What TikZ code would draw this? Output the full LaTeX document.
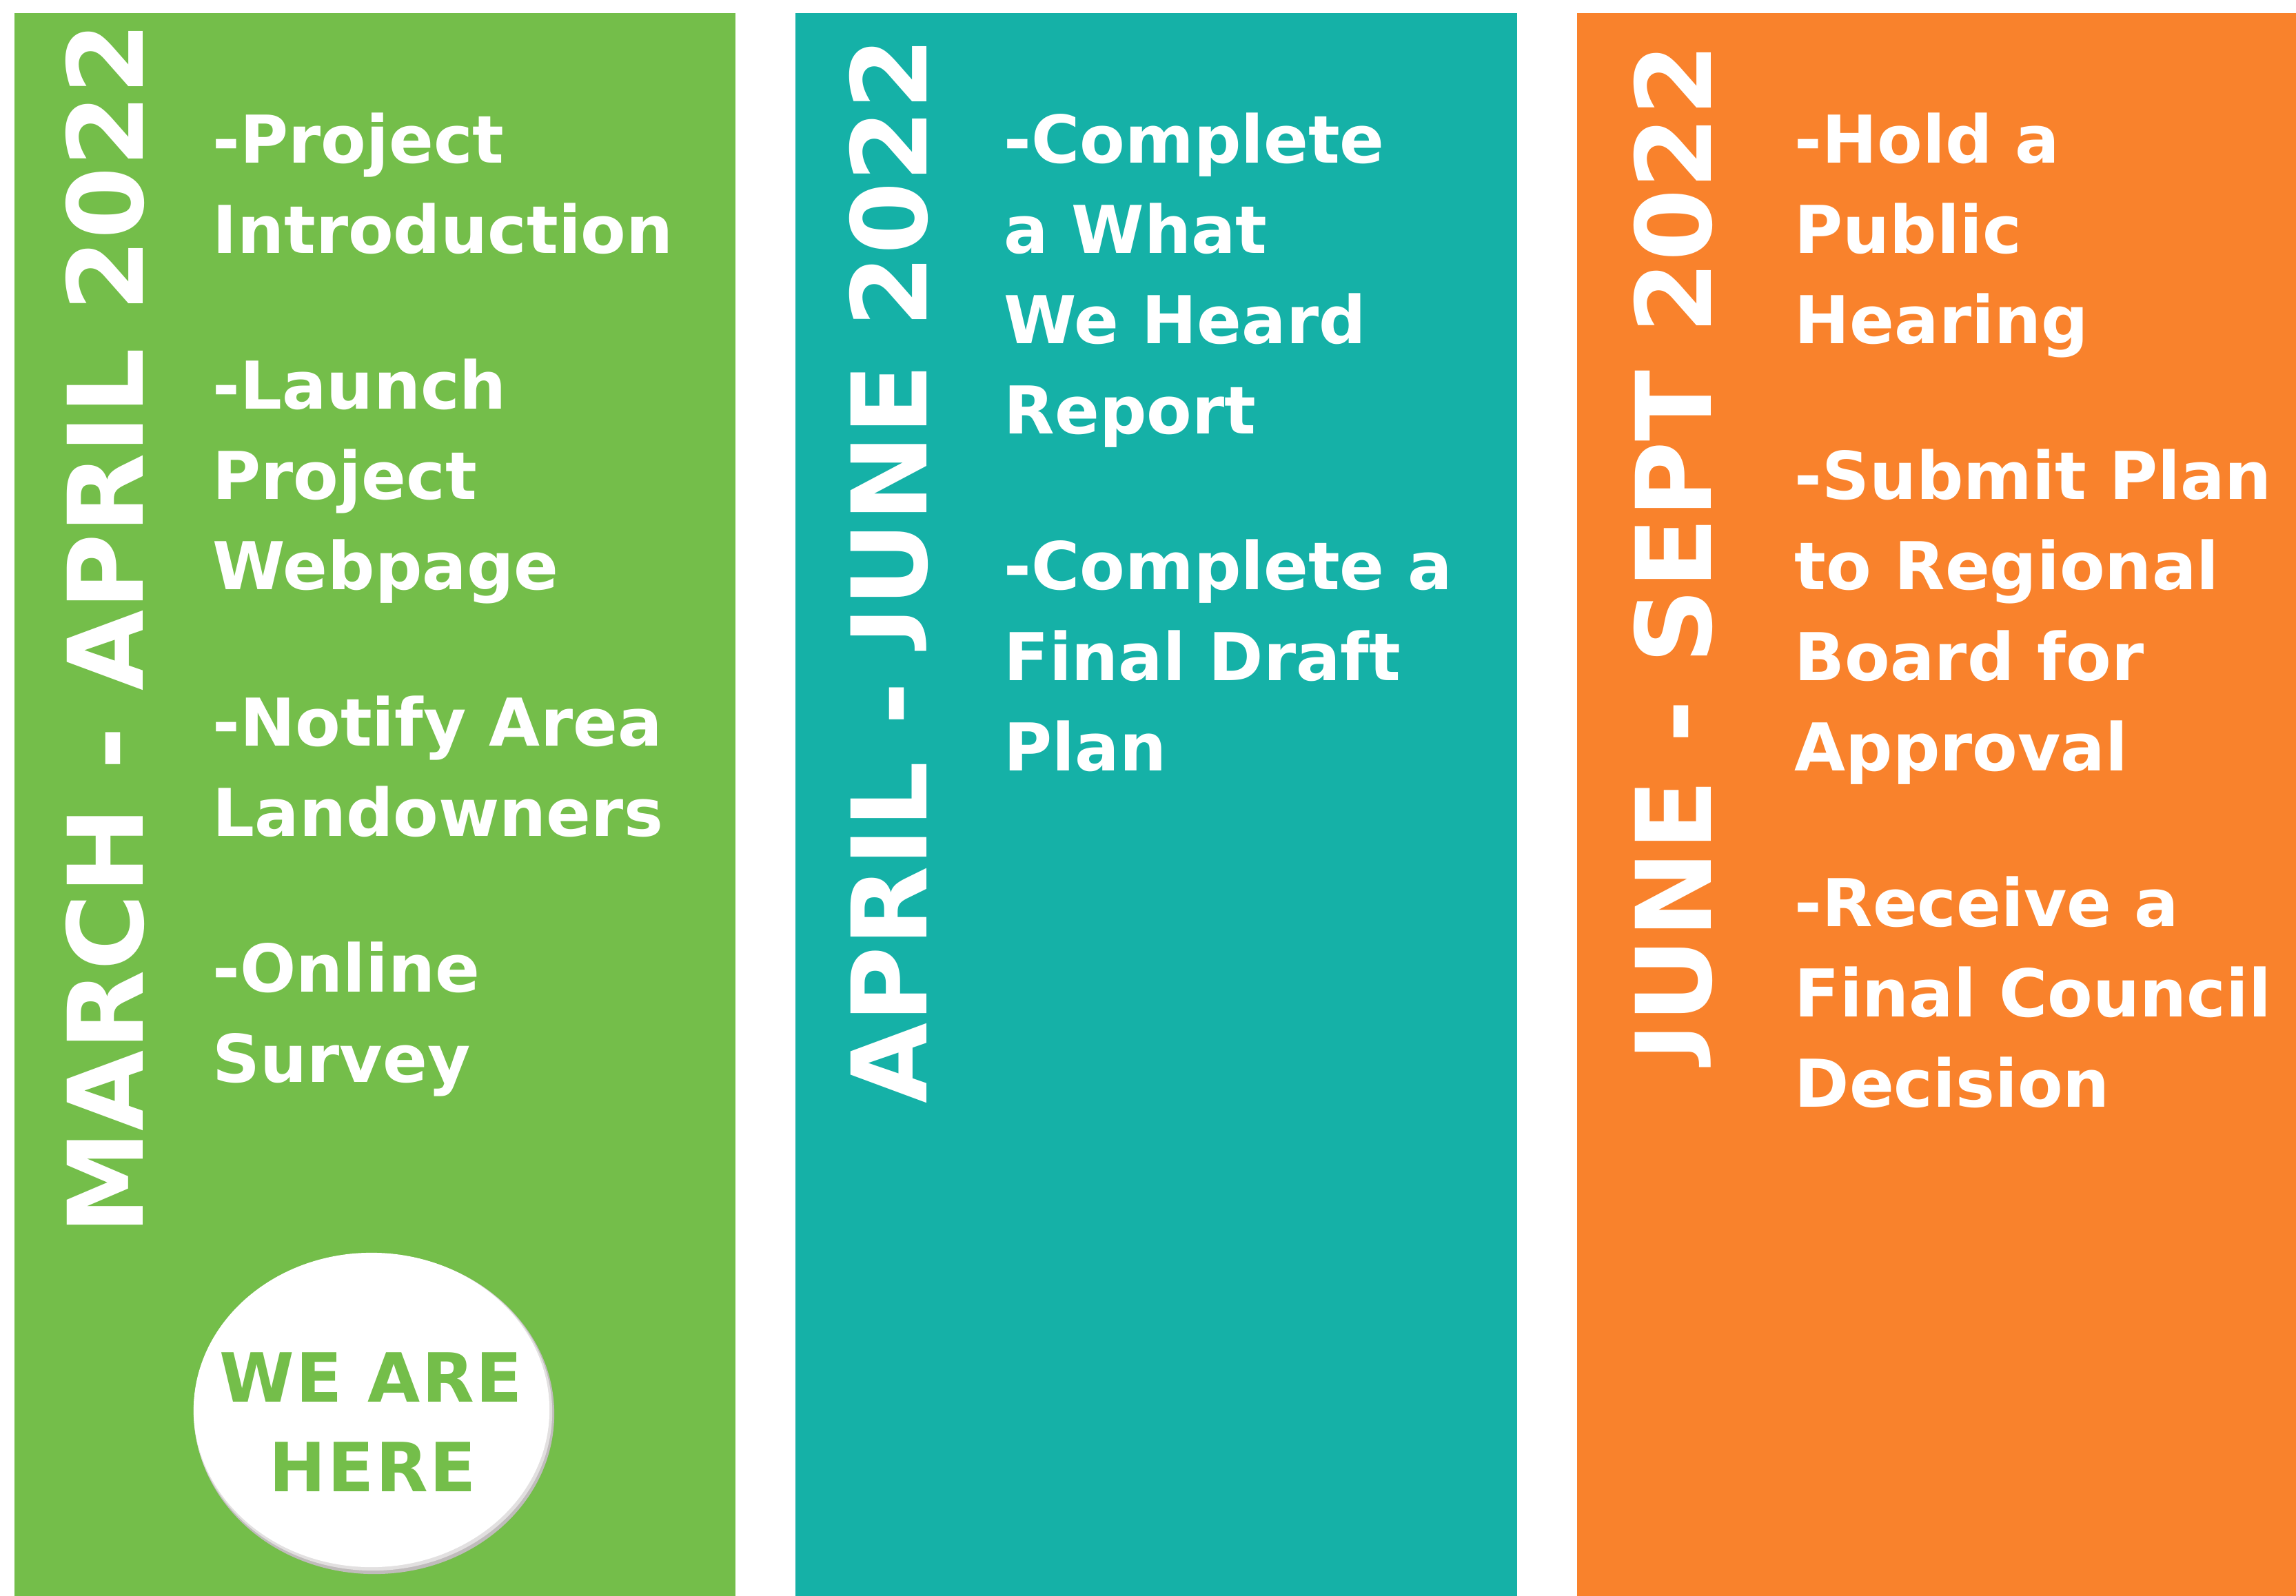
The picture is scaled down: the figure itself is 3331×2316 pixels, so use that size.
\documentclass[tikz,border=0pt]{standalone}
\usepackage{graphicx}
\usepackage{fontspec}
\setmainfont{DejaVu Sans}
\definecolor{leafgreen}{RGB}{116,190,74}
\definecolor{seateal}{RGB}{21,177,167}
\definecolor{sunorange}{RGB}{249,130,44}
\definecolor{shadowgray}{RGB}{192,188,188}
\definecolor{softgray}{RGB}{226,224,224}
% a J that sits on the baseline
\newcommand{\flatJ}{\raisebox{0.157em}{\scalebox{1}[0.784]{J}}}
\tikzset{
  period/.style={rotate=90, anchor=base, inner sep=0pt, text=white,
    font=\fontsize{43}{43}\selectfont\bfseries},
  item/.style={anchor=base west, inner sep=0pt, text=white,
    font=\fontsize{27.2}{32}\selectfont\bfseries},
  badge/.style={anchor=base, inner sep=0pt, text=leafgreen,
    font=\fontsize{28}{32}\selectfont\bfseries\addfontfeatures{LetterSpace=2.5}}
}

\begin{document}
\begin{tikzpicture}[x=0.01cm, y=-0.01cm]
        \useasboundingbox (0,0) rectangle (3331,2316);
        \fill[white] (0,0) rectangle (3331,2316);

        % the three periods
        \fill[leafgreen] (21,19) rectangle (1067,2316);
        \fill[seateal] (1154,19) rectangle (2201,2316);
        \fill[sunorange] (2288,19) rectangle (3331,2316);

        \draw (207,912) node [period] (march) {MARCH - APRIL 2022};
        \draw (1344,828) node [period] (april) {APRIL - \flatJ UNE 2022};
        \draw (2482,802) node [period] (june) {\flatJ UNE - SEPT 2022};

        \foreach \y/\t [count=\i] in {237/-Project, 368/Introduction,
            594/-Launch, 725/Project, 856/Webpage,
            1082/-Notify Area, 1213/Landowners,
            1439/-Online, 1570/Survey}
            \draw (308,\y) node [item] (green-\i) {\t};

        \foreach \y/\t [count=\i] in {237/-Complete, 368/a What, 499/We Heard, 630/Report,
            856/-Complete a, 987/Final Draft, 1118/Plan}
            \draw (1456,\y) node [item] (teal-\i) {\t};

        \foreach \y/\t [count=\i] in {237/-Hold a, 368/Public, 499/Hearing,
            725/-Submit Plan, 856/to Regional, 987/Board for, 1118/Approval,
            1344/-Receive a, 1475/Final Council, 1606/Decision}
            \draw (2603,\y) node [item] (orange-\i) {\t};

        % we are here button
        \fill[shadowgray] (543,2052) ellipse [x radius=2.61cm, y radius=2.32cm];
        \fill[softgray] (541,2049) ellipse [x radius=2.60cm, y radius=2.30cm];
        \fill[white] (539,2046) ellipse [x radius=2.58cm, y radius=2.28cm];
        \draw (538,2034) node [badge] (we) {WE ARE};
        \draw (541,2164) node [badge] (here) {HERE};
    \end{tikzpicture}
\end{document}
